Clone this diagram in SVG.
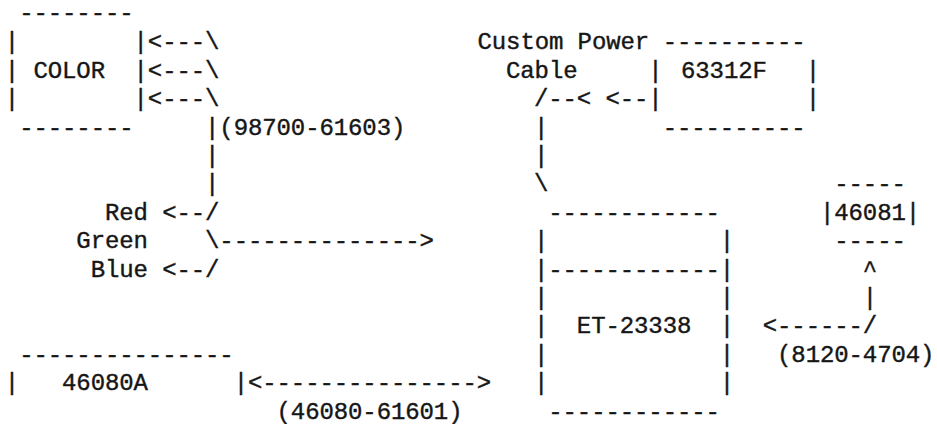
<svg xmlns="http://www.w3.org/2000/svg" width="937" height="424" viewBox="0 0 937 424">
<style>
text{font-family:"Liberation Mono","DejaVu Sans Mono",monospace;font-size:24px;letter-spacing:-0.1px;fill:#161616;stroke:#161616;stroke-width:0.4px;white-space:pre}
</style>
<rect width="937" height="424" fill="#ffffff"/>
<g id="node-color">
<text x="19.15" y="20">--------</text>
<text x="4.85" y="49.4">|</text>
<text x="4.85" y="77.8">|</text>
<text x="4.85" y="106.2">|</text>
<text x="33.45" y="77.8">COLOR</text>
<text x="133.55" y="49.4">|</text>
<text x="133.55" y="77.8">|</text>
<text x="133.55" y="106.2">|</text>
<text x="19.15" y="134.6">--------</text>
</g>
<g id="node-63312F">
<text x="662.65" y="49.4">----------</text>
<text x="648.35" y="77.8">|</text>
<text x="648.35" y="106.2">|</text>
<text x="681" y="77.8">63312F</text>
<text x="805.65" y="77.8">|</text>
<text x="805.65" y="106.2">|</text>
<text x="662.65" y="134.6">----------</text>
</g>
<g id="node-46081">
<text x="834.25" y="191.4">-----</text>
<text x="819.95" y="219.8">|</text>
<text x="834.25" y="219.8">46081</text>
<text x="905.75" y="219.8">|</text>
<text x="834.25" y="248.2">-----</text>
</g>
<g id="node-et23338">
<text x="548.25" y="219.8">------------</text>
<text x="533.95" y="248.2">|</text>
<text x="719.85" y="248.2">|</text>
<text x="533.95" y="276.6">|------------|</text>
<text x="533.95" y="305">|</text>
<text x="719.85" y="305">|</text>
<text x="533.95" y="333.4">|</text>
<text x="576.85" y="333.4">ET-23338</text>
<text x="719.85" y="333.4">|</text>
<text x="533.95" y="361.8">|</text>
<text x="719.85" y="361.8">|</text>
<text x="533.95" y="390.2">|</text>
<text x="719.85" y="390.2">|</text>
<text x="548.25" y="418.6">------------</text>
</g>
<g id="node-46080A">
<text x="19.15" y="361.8">---------------</text>
<text x="4.85" y="390.2">|</text>
<text x="62.05" y="390.2">46080A</text>
<text x="233.65" y="390.2">|</text>
</g>
<g id="labels">
<text x="477.5" y="49.4">Custom Power</text>
<text x="506" y="77.8">Cable</text>
<text x="104.95" y="219.8">Red</text>
<text x="76.35" y="248.2">Green</text>
<text x="90.65" y="276.6">Blue</text>
<text x="219.35" y="134.6">(98700-61603)</text>
<text x="777.05" y="361.8">(8120-4704)</text>
<text x="276.55" y="418.6">(46080-61601)</text>
</g>
<g id="connectors">
<text x="147.85" y="49.4">&lt;---\</text>
<text x="147.85" y="77.8">&lt;---\</text>
<text x="147.85" y="106.2">&lt;---\</text>
<text x="205.05" y="134.6">|</text>
<text x="205.05" y="163">|</text>
<text x="205.05" y="191.4">|</text>
<text x="162.15" y="219.8">&lt;--/</text>
<text x="205.05" y="248.2">\--------------&gt;</text>
<text x="162.15" y="276.6">&lt;--/</text>
<text x="533.95" y="106.2">/--&lt;</text>
<text x="605.45" y="106.2">&lt;--</text>
<text x="533.95" y="134.6">|</text>
<text x="533.95" y="163">|</text>
<text x="533.95" y="191.4">\</text>
<text x="862.85" y="276.6">^</text>
<text x="862.85" y="305">|</text>
<text x="762.75" y="333.4">&lt;------/</text>
<text x="247.95" y="390.2">&lt;---------------&gt;</text>
</g>
</svg>
